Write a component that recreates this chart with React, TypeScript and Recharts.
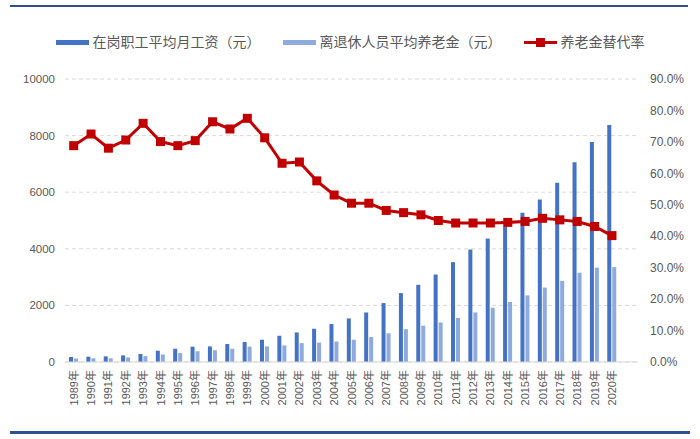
import {
  ComposedChart,
  Bar,
  Line,
  XAxis,
  YAxis,
  CartesianGrid,
} from "recharts";

const years = [
  "1989年", "1990年", "1991年", "1992年", "1993年", "1994年", "1995年", "1996年",
  "1997年", "1998年", "1999年", "2000年", "2001年", "2002年", "2003年", "2004年",
  "2005年", "2006年", "2007年", "2008年", "2009年", "2010年", "2011年", "2012年",
  "2013年", "2014年", "2015年", "2016年", "2017年", "2018年", "2019年", "2020年",
];

// 在岗职工平均月工资（元）
const wage = [
  176, 187, 198, 233, 282, 399, 469, 540, 551, 635, 706, 787, 928, 1045, 1175, 1341,
  1539, 1750, 2082, 2435, 2728, 3091, 3529, 3974, 4362, 4786, 5270, 5746, 6338, 7058, 7775, 8374,
];

// 离退休人员平均养老金（元）
const pension = [
  121, 130, 130, 162, 205, 265, 315, 378, 415, 469, 543, 551, 586, 667, 685, 720,
  787, 882, 1015, 1162, 1285, 1398, 1556, 1752, 1915, 2120, 2354, 2630, 2867, 3153, 3335, 3352,
];

// 养老金替代率（%）
const rate = [
  68.8, 72.5, 68.0, 70.6, 75.9, 70.1, 68.8, 70.4, 76.4, 74.1, 77.5, 71.3, 63.2, 63.6, 57.6, 53.1,
  50.5, 50.5, 48.2, 47.5, 46.8, 45.0, 44.2, 44.2, 44.2, 44.4, 44.7, 45.7, 45.2, 44.7, 43.1, 40.2,
];

const leftTicks = [0, 2000, 4000, 6000, 8000, 10000];
const rightTicks = [0, 10, 20, 30, 40, 50, 60, 70, 80, 90];

const data = years.map((year, i) => ({
  year,
  wage: wage[i],
  pension: pension[i],
  rate: rate[i],
}));
// the plot area in the source keeps one empty slot at the right
data.push({ year: "", wage: null, pension: null, rate: null } as any);

const FONT = '"Liberation Sans", Arial, "Noto Sans CJK SC", sans-serif';
const DARK = "#4472C4";
const LIGHT = "#8FAADC";
const RED = "#C00000";
const NAVY = "#2F4F8F";

const SquareDot = (props: any) => {
  const { cx, cy } = props;
  if (cx == null || cy == null) return null;
  return <rect x={cx - 4.5} y={cy - 4.5} width={9} height={9} fill={RED} />;
};

const YearTick = (props: any) => {
  const { x, y, payload } = props;
  return (
    <text
      transform={`translate(${x},${y}) rotate(-90)`}
      textAnchor="end"
      dominantBaseline="central"
      fontSize={11}
      fontFamily={FONT}
      fill="#595959"
    >
      {payload.value}
    </text>
  );
};

const LegendItem = ({ kind, label }: { kind: string; label: string }) => (
  <div style={{ display: "flex", alignItems: "center" }}>
    {kind === "line" ? (
      <div style={{ position: "relative", width: 33, height: 9 }}>
        <div style={{ position: "absolute", left: 0, top: 3, width: 33, height: 3, background: RED }} />
        <div style={{ position: "absolute", left: 12, top: 0, width: 9, height: 9, background: RED }} />
      </div>
    ) : (
      <div style={{ width: 33, height: 5, background: kind }} />
    )}
    <span style={{ marginLeft: 4 }}>{label}</span>
  </div>
);

export default function App() {
  return (
    <div
      style={{
        position: "absolute",
        left: 0,
        top: 0,
        width: 700,
        height: 439,
        background: "#fff",
        overflow: "hidden",
      }}
    >
      <div style={{ position: "absolute", left: 10, top: 5, width: 678, height: 2, background: NAVY }} />

      <div
        style={{
          position: "absolute",
          left: 0,
          top: 33,
          width: 700,
          display: "flex",
          justifyContent: "center",
          gap: 22,
          fontFamily: FONT,
          fontSize: 14,
          color: "#595959",
          lineHeight: "18px",
        }}
      >
        <LegendItem kind={DARK} label="在岗职工平均月工资（元）" />
        <LegendItem kind={LIGHT} label="离退休人员平均养老金（元）" />
        <LegendItem kind="line" label="养老金替代率" />
      </div>

      <ComposedChart
        width={700}
        height={439}
        data={data}
        margin={{ top: 79, right: 0, bottom: 0, left: 0 }}
        barSize={4}
        barGap={1}
      >
        <CartesianGrid
          yAxisId="left"
          vertical={false}
          stroke="#d9d9d9"
          strokeDasharray="4 3"
        />
        <XAxis
          dataKey="year"
          interval={0}
          height={77}
          tickLine={false}
          axisLine={{ stroke: "#d9d9d9" }}
          tick={<YearTick />}
        />
        <YAxis
          yAxisId="left"
          width={65}
          domain={[0, 10000]}
          ticks={leftTicks}
          axisLine={false}
          tickLine={false}
          tickMargin={4}
          tick={{ fill: "#595959", fontSize: 11.5, fontFamily: FONT }}
        />
        <YAxis
          yAxisId="right"
          orientation="right"
          width={62}
          domain={[0, 90]}
          ticks={rightTicks}
          axisLine={false}
          tickLine={false}
          tickMargin={6}
          tickFormatter={(v: number) => v.toFixed(1) + "%"}
          tick={{ fill: "#595959", fontSize: 12, fontFamily: FONT }}
        />
        <Bar yAxisId="left" dataKey="wage" fill={DARK} isAnimationActive={false} />
        <Bar yAxisId="left" dataKey="pension" fill={LIGHT} isAnimationActive={false} />
        <Line
          yAxisId="right"
          type="linear"
          dataKey="rate"
          stroke={RED}
          strokeWidth={3}
          dot={<SquareDot />}
          activeDot={false}
          isAnimationActive={false}
        />
      </ComposedChart>

      <div style={{ position: "absolute", left: 10, top: 431, width: 680, height: 3, background: NAVY }} />
    </div>
  );
}
